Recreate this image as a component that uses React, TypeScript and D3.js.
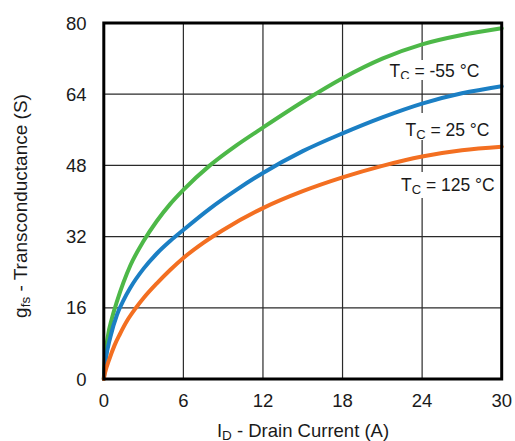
import React from "react";
import * as d3 from "d3";

const xTicks = [0, 6, 12, 18, 24, 30];
const yTicks = [0, 16, 32, 48, 64, 80];

const greenX = [0, 0.05, 0.3, 0.6, 1, 2, 3, 4, 5, 6, 8, 10, 12, 15, 18, 21, 24, 27, 30];
const greenY = [0, 3, 9.5, 13.5, 17.5, 25.5, 31, 35.5, 39.3, 42.5, 48, 52.5, 56.5, 62.3, 67.6, 72, 75.2, 77.3, 78.8];

const blueX = [0, 0.15, 0.5, 1, 1.5, 2, 3, 4, 5, 6, 8, 10, 12, 15, 18, 21, 24, 27, 30];
const blueY = [0, 4.3, 9.5, 14.5, 17.8, 20.5, 24.8, 28.2, 31, 33.5, 38.3, 42.5, 46.3, 51.2, 55.2, 58.8, 61.9, 64.2, 65.8];

const orangeX = [0, 0.1, 0.4, 0.8, 1.2, 1.8, 2.4, 3, 4, 5, 6, 7.5, 9, 12, 15, 18, 21, 24, 27, 30];
const orangeY = [0, 1.5, 4.3, 7.5, 10, 13.3, 15.9, 18.2, 21.5, 24.5, 27.2, 30.6, 33.5, 38.4, 42.2, 45.3, 47.9, 50, 51.4, 52.2];

const seriesNames = ["-55", "25", "125"];
const seriesColors = ["#4db848", "#1b7fc4", "#f36f21"];

const W = 515;
const H = 441;
const left = 103.8;
const right = 501.7;
const top = 23;
const bottom = 379;

export default function App() {
  const x = d3.scaleLinear().domain([0, 30]).range([left, right]);
  const y = d3.scaleLinear().domain([0, 80]).range([bottom, top]);
  const line = d3
    .line<[number, number]>()
    .x((d) => x(d[0]))
    .y((d) => y(d[1]))
    .curve(d3.curveMonotoneX);

  const series = [
    { xs: greenX, ys: greenY },
    { xs: blueX, ys: blueY },
    { xs: orangeX, ys: orangeY },
  ];

  const labels = [
    { name: seriesNames[0], tx: 389.5, by: 76.7, box: [386, 60, 96, 20], clip: 79 },
    { name: seriesNames[1], tx: 405.5, by: 136, box: [402, 113, 90, 27], clip: 0 },
    { name: seriesNames[2], tx: 401, by: 190.5, box: [398, 172, 100, 26], clip: 0 },
  ];

  const font = "'Liberation Sans', Arial, sans-serif";

  return (
    <svg
      width={W}
      height={H}
      style={{ position: "absolute", left: 0, top: 0, background: "#fff" }}
      fontFamily={font}
    >
      <defs>
        <clipPath id="clip55">
          <rect x={380} y={50} width={120} height={29} />
        </clipPath>
      </defs>
      <rect x={0} y={0} width={W} height={H} fill="#fff" />
      {xTicks.slice(1, -1).map((t) => (
        <line key={"gx" + t} x1={x(t)} x2={x(t)} y1={top} y2={bottom} stroke="#2a2a2a" strokeWidth={1.2} />
      ))}
      {yTicks.slice(1, -1).map((t) => (
        <line key={"gy" + t} x1={left} x2={right} y1={y(t)} y2={y(t)} stroke="#2a2a2a" strokeWidth={1.2} />
      ))}
      {labels.map((l, i) => (
        <rect key={"b" + i} x={l.box[0]} y={l.box[1]} width={l.box[2]} height={l.box[3]} fill="#fff" />
      ))}
      {series.map((s, i) => (
        <path
          key={"s" + i}
          d={line(s.xs.map((v, j) => [v, s.ys[j]] as [number, number])) || ""}
          fill="none"
          stroke={seriesColors[i]}
          strokeWidth={4}
          strokeLinejoin="round"
          strokeLinecap="round"
        />
      ))}
      <rect x={left} y={top} width={right - left} height={bottom - top} fill="none" stroke="#000" strokeWidth={3} />
      {xTicks.map((t) => (
        <text key={"xt" + t} x={x(t)} y={406.7} textAnchor="middle" fontSize={18.5} fill="#1a1a1a">
          {t}
        </text>
      ))}
      {yTicks.map((t) => (
        <text key={"yt" + t} x={86.5} y={y(t) + 6.6} textAnchor="end" fontSize={18.5} fill="#1a1a1a">
          {t}
        </text>
      ))}
      {labels.map((l, i) => (
        <g key={"l" + i} clipPath={l.clip ? "url(#clip55)" : undefined}>
          <text x={l.tx} y={l.by} fontSize={17.5} fill="#1a1a1a">
            T
            <tspan fontSize={13} dy={3}>C</tspan>
            <tspan dy={-3}>{` = ${l.name} °C`}</tspan>
          </text>
        </g>
      ))}
      <text x={303} y={436.5} textAnchor="middle" fontSize={18.5} fill="#1a1a1a">
        I<tspan fontSize={13.5} dy={3}>D</tspan>
        <tspan dy={-3}> - Drain Current (A)</tspan>
      </text>
      <text
        transform={`translate(26.5, 206) rotate(-90)`}
        textAnchor="middle"
        fontSize={19}
        fill="#1a1a1a"
      >
        g<tspan fontSize={13.5} dy={3}>fs</tspan>
        <tspan dy={-3}> - Transconductance (S)</tspan>
      </text>
    </svg>
  );
}
